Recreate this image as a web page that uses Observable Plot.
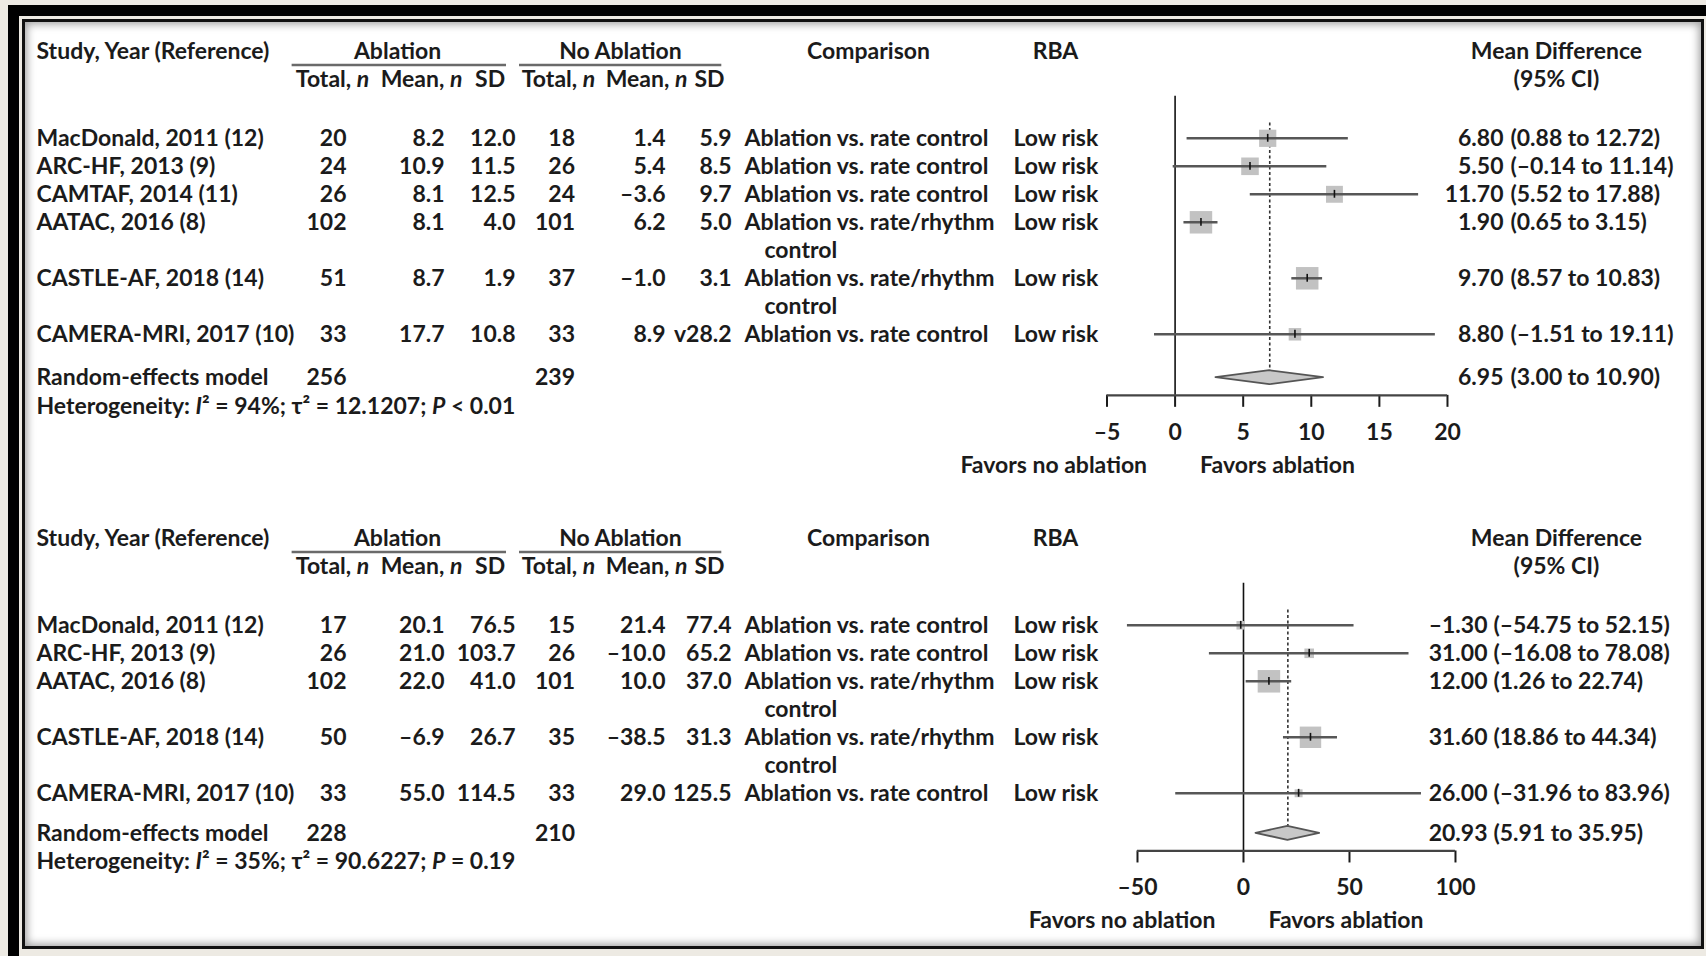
<!DOCTYPE html>
<html>
<head>
<meta charset="utf-8">
<script src="https://cdn.jsdelivr.net/npm/d3@7"></script>
<script src="https://cdn.jsdelivr.net/npm/@observablehq/plot@0.6"></script>
<style>
  html, body { margin: 0; padding: 0; width: 1706px; height: 956px; overflow: hidden; background: #edeae3; }
  #outer { position: absolute; left: 8px; top: 5px; width: 1720px; height: 970px; background: #000; }
  #stripe { position: absolute; left: 19px; top: 16px; width: 1710px; height: 960px; background: #edeae3; }
  #inner { position: absolute; left: 22px; top: 19px; width: 1676px; height: 924px; border: 3px solid #111;
           background: #fff; box-shadow: inset 0 0 9px 2px rgba(0,0,0,0.38); }
  .panel { position: absolute; left: 0; }
  [aria-label="x-axis tick"] { stroke-width: 2px; }
</style>
</head>
<body>
<div id="outer"></div>
<div id="stripe"></div>
<div id="inner"></div>
<div id="panelA" class="panel" style="top:26px"></div>
<div id="panelB" class="panel" style="top:513px"></div>
<script>
// ---------------- DATA: top panel ----------------
const studiesA = ["MacDonald, 2011 (12)", "ARC-HF, 2013 (9)", "CAMTAF, 2014 (11)", "AATAC, 2016 (8)", "CASTLE-AF, 2018 (14)", "CAMERA-MRI, 2017 (10)"];
const ablTotalA = [20, 24, 26, 102, 51, 33];
const ablMeanA = [8.2, 10.9, 8.1, 8.1, 8.7, 17.7];
const ablSdA = [12.0, 11.5, 12.5, 4.0, 1.9, 10.8];
const noTotalA = [18, 26, 24, 101, 37, 33];
const noMeanA = [1.4, 5.4, -3.6, 6.2, -1.0, 8.9];
const noSdA = ["5.9", "8.5", "9.7", "5.0", "3.1", "v28.2"];
const comparisonA = ["Ablation vs. rate control", "Ablation vs. rate control", "Ablation vs. rate control", "Ablation vs. rate/rhythm control", "Ablation vs. rate/rhythm control", "Ablation vs. rate control"];
const rbaA = ["Low risk", "Low risk", "Low risk", "Low risk", "Low risk", "Low risk"];
const mdA = [6.80, 5.50, 11.70, 1.90, 9.70, 8.80];
const loA = [0.88, -0.14, 5.52, 0.65, 8.57, -1.51];
const hiA = [12.72, 11.14, 17.88, 3.15, 10.83, 19.11];
const weightA = [14.4, 15.0, 13.9, 24.5, 24.6, 7.6];
const pooledA = [6.95, 3.00, 10.90];
const pooledTotalsA = [256, 239];
const hetA = "Heterogeneity: _I_² = 94%; τ² = 12.1207; _P_ < 0.01";
const xTicksA = [-5, 0, 5, 10, 15, 20];

// ---------------- DATA: bottom panel ----------------
const studiesB = ["MacDonald, 2011 (12)", "ARC-HF, 2013 (9)", "AATAC, 2016 (8)", "CASTLE-AF, 2018 (14)", "CAMERA-MRI, 2017 (10)"];
const ablTotalB = [17, 26, 102, 50, 33];
const ablMeanB = [20.1, 21.0, 22.0, -6.9, 55.0];
const ablSdB = [76.5, 103.7, 41.0, 26.7, 114.5];
const noTotalB = [15, 26, 101, 35, 33];
const noMeanB = [21.4, -10.0, 10.0, -38.5, 29.0];
const noSdB = ["77.4", "65.2", "37.0", "31.3", "125.5"];
const comparisonB = ["Ablation vs. rate control", "Ablation vs. rate control", "Ablation vs. rate/rhythm control", "Ablation vs. rate/rhythm control", "Ablation vs. rate control"];
const rbaB = ["Low risk", "Low risk", "Low risk", "Low risk", "Low risk"];
const mdB = [-1.30, 31.00, 12.00, 31.60, 26.00];
const loB = [-54.75, -16.08, 1.26, 18.86, -31.96];
const hiB = [52.15, 78.08, 22.74, 44.34, 83.96];
const weightB = [6.1, 7.7, 42.4, 38.5, 5.3];
const pooledB = [20.93, 5.91, 35.95];
const pooledTotalsB = [228, 210];
const hetB = "Heterogeneity: _I_² = 35%; τ² = 90.6227; _P_ = 0.19";
const xTicksB = [-50, 0, 50, 100];

// ---------------- shared labels ----------------
const studyHeader = "Study, Year (Reference)";
const groupHeaders = ["Ablation", "No Ablation"];
const subHeaders = ["Total, _n_", "Mean, _n_", "SD", "Total, _n_", "Mean, _n_", "SD"];
const comparisonHeader = "Comparison";
const rbaHeader = "RBA";
const mdHeader = ["Mean Difference", "(95% CI)"];
const pooledLabel = "Random-effects model";
const favorsLabels = ["Favors no ablation", "Favors ablation"];
const NULL_EFFECT = 0;

// ---------------- layout & style ----------------
const W = 1706;
const FONT = "Lato, 'Open Sans', Roboto, sans-serif";
const FS = 23;
const INK = "#1b1b1b";
const LINE_PX = 28, MT = 25, MB = 95, R_MAX = 12.7;
const COL = {
  study: 36, ablTotal: 346, ablMean: 444, ablSd: 515, noTotal: 574.5, noMean: 665, noSd: 731,
  comparison: 744, indent: 20, rba: 1013,
  sub: [332, 421, 489.6, 558, 646, 709],
  group: [397, 620], groupSpan: [[291.6, 506], [519, 721.3]],
  comparisonHead: 868, rbaHead: 1055, mdHead: 1556
};
const H1 = -3.1, H2 = -2.1, UL = -2.6;

const fmt = (v, d = 1) => (v < 0 ? "–" : "") + Math.abs(v).toFixed(d);
function wrapText(s, max = 26) {
  const out = []; let cur = "";
  for (const w of s.split(" ")) {
    if (cur && (cur + " " + w).length > max) { out.push(cur); cur = w; }
    else cur = cur ? cur + " " + w : w;
  }
  if (cur) out.push(cur);
  return out;
}

function forestPanel(d, L) {
  const rows = []; let line = 0;
  d.studies.forEach((s, i) => {
    const cmp = wrapText(d.comparison[i]);
    rows.push({line, study: s, ablTotal: d.ablTotal[i], ablMean: d.ablMean[i], ablSd: d.ablSd[i],
      noTotal: d.noTotal[i], noMean: d.noMean[i], noSd: d.noSd[i], cmp, rba: d.rba[i],
      md: d.md[i], lo: d.lo[i], hi: d.hi[i], weight: d.weight[i]});
    line += cmp.length;
  });
  const cont = rows.flatMap(r => r.cmp.slice(1).map((t, j) => ({line: r.line + j + 1, text: t})));
  const reLine = line - 1 + L.reGap, hetLine = reLine + 1.02, axisLine = reLine + 0.63;
  const height = MT + MB + (axisLine - H1) * LINE_PX;
  const ml = L.xRange[0], mr = W - L.xRange[1];
  const T = (data, text, px, anchor, opts = {}) =>
    Plot.text(data, {y: "line", text, frameAnchor: "left", dx: px - ml, textAnchor: anchor, fill: INK, ...opts});
  const one = (ln) => [{line: ln}];
  const [pm, plo, phi] = d.pooled;
  const diamond = [{x: plo, y1: reLine, y2: reLine}, {x: pm, y1: reLine - 0.25, y2: reLine + 0.25}, {x: phi, y1: reLine, y2: reLine}];
  const seg = (x1, x2, ln) => (index, scales) => {
    const y = scales.y(ln);
    const el = document.createElementNS("http://www.w3.org/2000/svg", "line");
    el.setAttribute("x1", x1); el.setAttribute("x2", x2);
    el.setAttribute("y1", y); el.setAttribute("y2", y);
    el.setAttribute("stroke", "#6a6a6a"); el.setAttribute("stroke-width", 2.6);
    return el;
  };
  const marks = [
    // headers
    T(one(H1), () => studyHeader, COL.study, "start"),
    ...groupHeaders.map((g, k) => T(one(H1), () => g, COL.group[k], "middle")),
    ...COL.groupSpan.map(([a, b]) => seg(a, b, UL)),
    ...subHeaders.map((s, k) => T(one(H2), () => s, COL.sub[k], "middle")),
    T(one(H1), () => comparisonHeader, COL.comparisonHead, "middle"),
    T(one(H1), () => rbaHeader, COL.rbaHead, "middle"),
    T(one(H1), () => mdHeader[0], COL.mdHead, "middle"),
    T(one(H2), () => mdHeader[1], COL.mdHead, "middle"),
    // study rows
    T(rows, r => r.study, COL.study, "start"),
    T(rows, r => String(r.ablTotal), COL.ablTotal, "end"),
    T(rows, r => fmt(r.ablMean), COL.ablMean, "end"),
    T(rows, r => fmt(r.ablSd), COL.ablSd, "end"),
    T(rows, r => String(r.noTotal), COL.noTotal, "end"),
    T(rows, r => fmt(r.noMean), COL.noMean, "end"),
    T(rows, r => r.noSd, COL.noSd, "end"),
    T(rows, r => r.cmp[0], COL.comparison, "start"),
    T(cont, r => r.text, COL.comparison + COL.indent, "start"),
    T(rows, r => r.rba, COL.rba, "start"),
    T(rows, r => fmt(r.md, 2), L.estRight, "end"),
    T(rows, r => `(${fmt(r.lo, 2)} to ${fmt(r.hi, 2)})`, L.ciLeft, "start"),
    // pooled row
    T(one(reLine), () => pooledLabel, COL.study, "start"),
    T(one(reLine), () => String(d.totals[0]), COL.ablTotal, "end"),
    T(one(reLine), () => String(d.totals[1]), COL.noTotal, "end"),
    T(one(reLine), () => fmt(pm, 2), L.estRight, "end"),
    T(one(reLine), () => `(${fmt(plo, 2)} to ${fmt(phi, 2)})`, L.ciLeft, "start"),
    T(one(hetLine), () => d.het, COL.study, "start"),
    // forest graphics
    Plot.ruleX([NULL_EFFECT], {y1: () => -1.5, y2: () => axisLine, stroke: "#111", strokeWidth: 1.6}),
    Plot.ruleX([pm], {y1: () => -0.55, y2: () => reLine - 0.25, stroke: "#333", strokeWidth: 1.6, strokeDasharray: "3,2.5"}),
    Plot.dot(rows, {x: "md", y: "line", r: "weight", symbol: "square", fill: "#c2c2c2", stroke: null}),
    Plot.ruleY(rows, {y: "line", x1: "lo", x2: "hi", stroke: "#575757", strokeWidth: 2.5}),
    Plot.ruleX(rows, {x: "md", y1: r => r.line - 0.14, y2: r => r.line + 0.14, stroke: "#111", strokeWidth: 1.6}),
    Plot.areaY(diamond, {x: "x", y1: "y1", y2: "y2", fill: "#c8c8c8", stroke: "#555", strokeWidth: 1.8, curve: "linear"}),
    Plot.ruleY([axisLine], {x1: () => d.ticks[0], x2: () => d.ticks[d.ticks.length - 1], stroke: "#444", strokeWidth: 2.2}),
    Plot.text([favorsLabels[0]], {x: () => NULL_EFFECT, text: t => t, frameAnchor: "bottom", dy: L.favorsDy, dx: -28, textAnchor: "end", fill: INK}),
    Plot.text([favorsLabels[1]], {x: () => NULL_EFFECT, text: t => t, frameAnchor: "bottom", dy: L.favorsDy, dx: 25, textAnchor: "start", fill: INK})
  ];
  const svg = Plot.plot({
    width: W, height, marginLeft: ml, marginRight: mr, marginTop: MT, marginBottom: MB,
    style: {background: "transparent", fontFamily: FONT, fontSize: FS + "px", fontWeight: "bold", color: INK, overflow: "visible"},
    x: {domain: [d.ticks[0], d.ticks[d.ticks.length - 1]], ticks: d.ticks, tickSize: 12, tickPadding: 16,
        tickFormat: v => (v < 0 ? "–" : "") + Math.abs(v), label: null},
    y: {domain: [H1, axisLine], reverse: true, axis: null},
    r: {domain: [0, d3.max(d.weight)], range: [0, R_MAX]},
    marks
  });
  // italic runs marked with underscores
  svg.querySelectorAll("text").forEach(t => {
    if (t.children.length) return;
    const s = t.textContent;
    if (!s.includes("_")) return;
    t.textContent = "";
    s.split("_").forEach((part, k) => {
      if (!part) return;
      const ts = document.createElementNS("http://www.w3.org/2000/svg", "tspan");
      if (k % 2) ts.setAttribute("font-style", "italic");
      ts.textContent = part;
      t.appendChild(ts);
    });
  });
  return svg;
}

document.getElementById("panelA").appendChild(forestPanel({
  studies: studiesA, ablTotal: ablTotalA, ablMean: ablMeanA, ablSd: ablSdA, noTotal: noTotalA, noMean: noMeanA,
  noSd: noSdA, comparison: comparisonA, rba: rbaA, md: mdA, lo: loA, hi: hiA, weight: weightA,
  pooled: pooledA, totals: pooledTotalsA, het: hetA, ticks: xTicksA
}, {xRange: [1106.5, 1447], estRight: 1503, ciLeft: 1510, reGap: 1.55, favorsDy: 78}));

document.getElementById("panelB").appendChild(forestPanel({
  studies: studiesB, ablTotal: ablTotalB, ablMean: ablMeanB, ablSd: ablSdB, noTotal: noTotalB, noMean: noMeanB,
  noSd: noSdB, comparison: comparisonB, rba: rbaB, md: mdB, lo: loB, hi: hiB, weight: weightB,
  pooled: pooledB, totals: pooledTotalsB, het: hetB, ticks: xTicksB
}, {xRange: [1137, 1455], estRight: 1487, ciLeft: 1493, reGap: 1.43, favorsDy: 77}));
</script>
</body>
</html>
